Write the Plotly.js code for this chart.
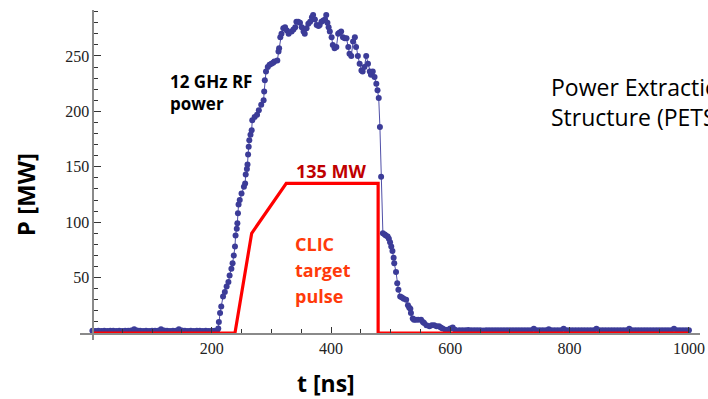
<!DOCTYPE html>
<html>
<head>
<meta charset="utf-8">
<script src="https://cdn.plot.ly/plotly-3.0.1.min.js"></script>
<style>
  html, body { margin: 0; padding: 0; background: #ffffff; }
  #chart { width: 708px; height: 399px; }
</style>
</head>
<body>
<div id="chart"></div>
<script>
// ---- Data ----
// Measured 12 GHz RF power, flat baseline before the pulse
var timeBase = [0,5,10,15,20,25,30,35,40,45,50,55,60,65,70,75,80,85,90,95,100,105,110,115,120,125,130,135,140,145,150,155,160,165,170,175,180,185,190,195,200,205];
var powerBase = [2,1.8,2,1.9,2,1.8,2,2,1.9,2,1.8,2,2,2.2,3.5,2.3,2,1.9,2,1.8,2,2,2.1,3.3,2.2,2,1.9,2,2.1,3.5,2.2,2,1.8,2,1.9,2,2,1.8,2,1.9,2,2];

// Measured power through the pulse (rise, flat top, fall)
var timePulse = [209,211,212,214,216,219,222,225,228,230,233,235,237,239,240,242,243,244,245,247,250,254,256,257,259,260,261,262,263,265,267,268,272,276,279,283,287,288,289,291,294,297,300,303,305,310,312,313,315,317,320,323,326,329,334,337,340,342,345,348,351,354,356,359,362,365,368,370,373,376,379,381,384,387,390,392,394,396,398,401,403,406,409,412,414,417,420,423,426,429,431,434,437,440,442,445,448,451,453,456,459,462,465,467,470,473,476,478,480,482,484,487,490,492,495,497,499,501,503,505,506,509,511,513,516,519,522,526,529,531,533,534,537,539,542,546,551,554,556,560,565,569,573,577,581,584,587,592,596,600,604,608];
var powerPulse = [2,4,10,18,24,33,37,42,46,52,58,63,70,78,88,94,99,108,116,120,126,132,135,143,148,152,161,168,174,179,183,192,195,197,201,206,210,218,228,236,240,242,243,244,245,246,254,257,267,270,275,276,273,270,272,274,276,281,281,280,276,272,270,275,279,281,285,287,283,278,277,278,281,282,283,287,280,276,272,267,260,257,258,270,271,272,267,266,266,258,252,250,263,267,258,250,243,237,236,240,250,243,236,233,236,231,225,219,212,186,141,90,89,88,87,85,82,78,74,68,63,55,45,39,33,32,31,30,25,23,22,18,13,12,12,12,12,10,9,7,6,7,7,6,6,5,4,3,3,4,5,3];

// Measured power, tail after the pulse
var timeTail = [615,620,625,630,635,640,645,650,655,660,665,670,675,680,685,690,695,700,705,710,715,720,725,730,735,740,745,750,755,760,765,770,775,780,785,790,795,800,805,810,815,820,825,830,835,840,845,850,855,860,865,870,875,880,885,890,895,900,905,910,915,920,925,930,935,940,945,950,955,960,965,970,975,980,985,990,995,1000];
var powerTail = [2.6,2.4,2.5,2.7,2.4,2.5,2.6,2.5,2.3,2.5,2.6,2.4,2.5,2.6,2.5,2.4,2.5,2.6,2.4,2.5,2.5,2.6,2.4,2.5,2.6,3.8,2.6,2.5,2.4,2.6,3.5,2.6,2.4,2.5,2.6,3.8,2.5,2.4,2.5,2.6,2.4,2.5,2.6,2.5,2.4,2.6,3.8,2.5,2.4,2.5,2.6,2.4,2.5,2.6,2.5,2.4,2.6,3.8,2.5,2.4,2.6,2.5,2.4,2.5,2.6,2.4,2.5,2.6,2.5,2.4,2.6,2.5,3.8,2.5,2.4,2.6,2.5,2.4];

// CLIC target pulse (red)
var targetTime = [0,239,267,325,479,479,1000];
var targetPower = [0,0,90,135,135,0,0];

// Axis ticks
var xTickVals = [200,400,600,800,1000];
var xTickText = ['200','400','600','800','1000'];
var xMinorVals = [50,100,150,250,300,350,450,500,550,650,700,750,850,900,950];
var yTickVals = [50,100,150,200,250];
var yTickText = ['50','100','150','200','250'];
var yMinorVals = [10,20,30,40,60,70,80,90,110,120,130,140,160,170,180,190,210,220,230,240,260,270,280,290];

// Text labels
var xTitle = 't [ns]';
var yTitle = 'P [MW]';
var rfLabel = '12 GHz RF<br>power';
var levelLabel = '135 MW';
var clicLines = ['CLIC','target','pulse'];
var petsLabel = 'Power Extraction<br>Structure (PETS)';

// ---- Build traces ----
var measTime = timeBase.concat(timePulse, timeTail);
var measPower = powerBase.concat(powerPulse, powerTail);

var xRange = [-20.8, 1018.6];
var yRange = [-6.3, 291.5];

var traces = [
  {
    x: measTime, y: measPower,
    type: 'scatter', mode: 'lines+markers',
    line: {color: '#5050a8', width: 1},
    marker: {color: '#3c3c98', size: 6},
    cliponaxis: false,
    hoverinfo: 'x+y'
  },
  {
    x: targetTime, y: targetPower,
    type: 'scatter', mode: 'lines',
    line: {color: '#ff0000', width: 3.2},
    cliponaxis: false,
    hoverinfo: 'x+y'
  }
];

var serif = 'Liberation Serif';
var tickFont = {family: serif, size: 16, color: '#222222'};
var sans = 'Open Sans';

var annotations = [
  {xref: 'paper', yref: 'paper', x: 0.397, y: -0.13, text: xTitle, showarrow: false,
   xanchor: 'center', yanchor: 'middle', font: {family: sans, size: 23, color: '#000000', weight: 700}},
  {xref: 'paper', yref: 'paper', x: -0.0887, y: 0.439, text: yTitle, showarrow: false, textangle: -90,
   xanchor: 'center', yanchor: 'middle', font: {family: sans, size: 24, color: '#000000', weight: 700}},
  {xref: 'paper', yref: 'paper', x: 0.142, y: 0.7515, text: rfLabel, showarrow: false, align: 'left',
   xanchor: 'left', yanchor: 'middle', font: {family: sans, size: 17, color: '#000000', weight: 700}},
  {xref: 'paper', yref: 'paper', x: 0.405, y: 0.512, text: levelLabel, showarrow: false,
   xanchor: 'center', yanchor: 'middle', font: {family: sans, size: 18, color: '#c00000', weight: 700}},
  {xref: 'paper', yref: 'paper', x: 0.756, y: 0.721, text: petsLabel, showarrow: false, align: 'left',
   xanchor: 'left', yanchor: 'middle', font: {family: sans, size: 23, color: '#000000'}}
];
var clicY = [0.291, 0.212, 0.133];
for (var i = 0; i < clicLines.length; i++) {
  annotations.push({xref: 'paper', yref: 'paper', x: 0.3435, y: clicY[i], text: clicLines[i], showarrow: false,
    xanchor: 'left', yanchor: 'middle', font: {family: sans, size: 18, color: '#ff3a0a', weight: 700}});
}

var layout = {
  width: 708, height: 399,
  font: {family: serif, size: 16, color: '#222222'},
  margin: {l: 80, r: 8, t: 10, b: 59, pad: 0},
  paper_bgcolor: '#ffffff',
  plot_bgcolor: '#ffffff',
  showlegend: false,
  xaxis: {
    range: xRange, anchor: 'free', position: 6.3 / 297.8,
    showgrid: false, zeroline: false,
    showline: true, linecolor: '#8a8a8a', linewidth: 1.5,
    tickmode: 'array', tickvals: xTickVals, ticktext: xTickText,
    ticks: 'inside', ticklen: 6, tickwidth: 1, tickcolor: '#333333',
    minor: {tickmode: 'array', tickvals: xMinorVals, ticks: 'inside', ticklen: 4, tickwidth: 1, tickcolor: '#333333', showgrid: false},
    tickfont: tickFont
  },
  yaxis: {
    range: yRange, anchor: 'free', position: 20.8 / 1039.4,
    showgrid: false, zeroline: false,
    showline: true, linecolor: '#8a8a8a', linewidth: 1.5,
    tickmode: 'array', tickvals: yTickVals, ticktext: yTickText,
    ticks: 'inside', ticklen: 7, tickwidth: 1, tickcolor: '#333333',
    minor: {tickmode: 'array', tickvals: yMinorVals, ticks: 'inside', ticklen: 4, tickwidth: 1, tickcolor: '#333333', showgrid: false},
    tickfont: tickFont
  },
  annotations: annotations
};

Plotly.newPlot('chart', traces, layout, {displayModeBar: false, staticPlot: true});
</script>
</body>
</html>
